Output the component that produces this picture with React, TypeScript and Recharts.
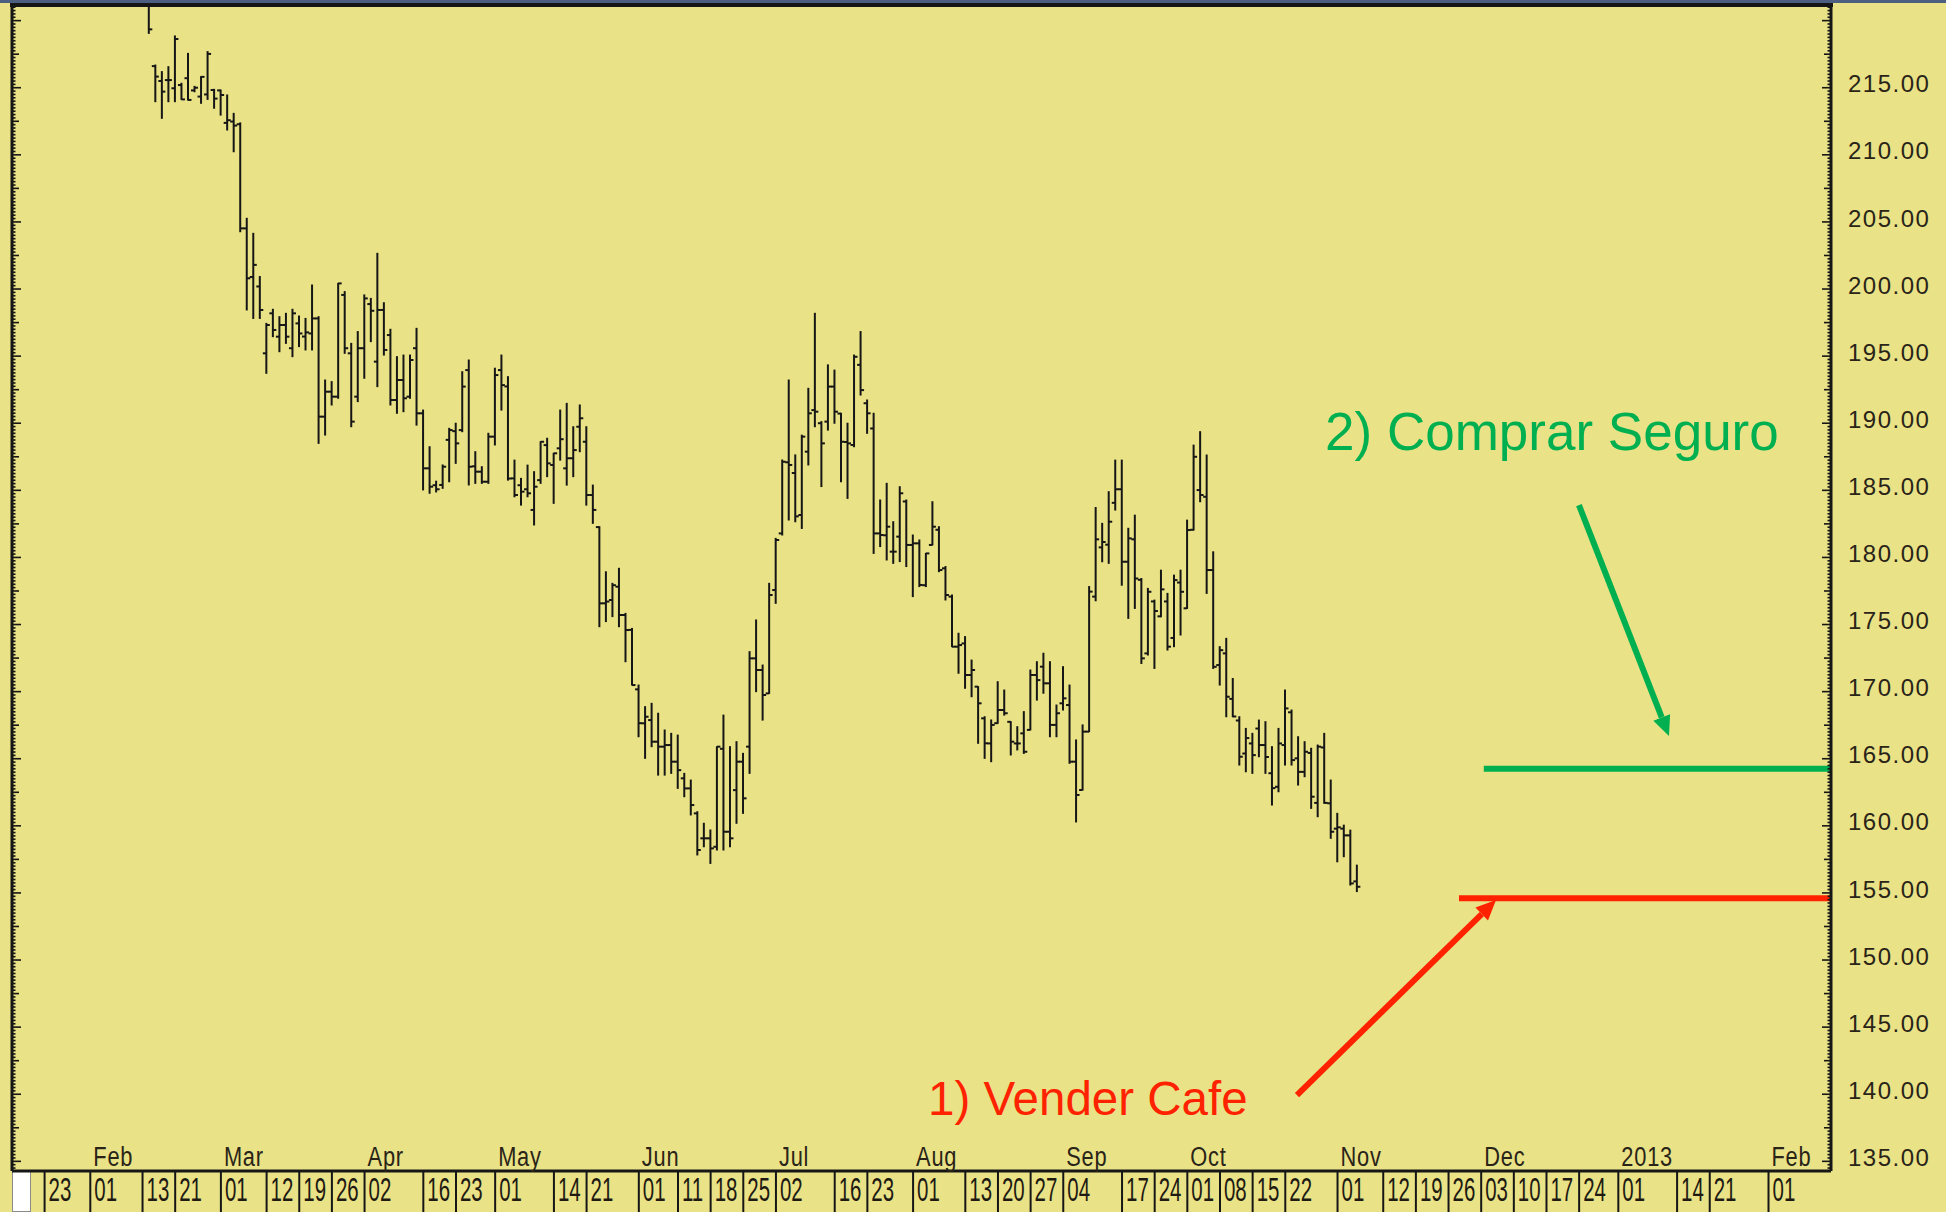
import React from 'react';
import { ComposedChart, Bar, XAxis, YAxis, ReferenceLine, ReferenceDot } from 'recharts';

// ---- data (trading-day index, first bar = Feb 14 2012, index 0 = Jan 23 2012) ----
const firstBarIndex = 16;
const opens = [221.34,216.61,215.5,215.57,214.96,215.2,215.71,214.8,214.34,214.5,214.83,214.8,212.38,212.48,212.28,204.52,200.9,200.19,195.21,198.19,196.45,197.32,195.59,197.44,196.46,196.69,197.81,190.49,192.35,191.98,199.56,195.21,191.98,195.59,198.88,194.59,198.44,196.57,191.73,193.22,191.98,195.59,190.74,186.64,185.38,185.4,188.76,189.41,189.49,193.96,186.79,186.39,185.64,189.0,193.96,192.74,185.89,185.38,185.08,183.54,185.76,188.37,186.89,188.13,186.64,187.39,189.74,188.62,184.65,182.26,176.58,176.83,177.82,175.71,174.6,170.17,167.64,167.88,166.27,165.9,166.02,164.78,163.54,162.79,160.93,159.07,159.07,158.44,165.74,159.56,162.66,164.78,165.9,172.48,171.61,169.87,177.57,181.79,187.09,186.29,183.16,187.88,190.98,190.0,190.12,192.73,190.72,188.6,188.38,194.35,191.49,189.61,181.79,181.65,180.43,181.55,184.17,180.93,181.05,177.93,180.93,182.06,179.19,177.08,173.35,173.59,171.24,170.37,168.01,166.14,167.65,168.63,167.75,166.14,166.89,167.15,171.24,171.86,170.62,167.52,169.13,169.0,164.78,162.67,167.02,177.08,180.75,180.95,184.07,185.08,179.68,181.35,178.33,172.85,176.72,175.61,176.72,174.0,178.13,176.21,182.06,185.02,184.52,179.06,171.98,172.85,169.46,167.85,165.39,166.14,167.25,166.02,163.92,162.91,166.02,168.46,165.03,164.02,165.43,161.71,165.84,161.68,159.79,159.79,159.29,155.86];
const highs = [221.85,216.69,216.2,216.57,218.86,215.33,217.56,215.1,215.83,217.69,214.88,214.83,214.46,213.09,212.38,205.27,204.15,200.93,197.44,198.49,197.94,198.19,198.49,197.99,197.81,200.3,197.94,193.22,193.1,200.42,199.81,195.95,196.83,199.56,199.3,202.66,198.98,197.0,194.96,195.08,195.08,197.07,190.98,188.25,185.68,186.89,189.62,190.0,193.84,194.71,187.88,186.76,189.25,194.1,195.08,193.47,187.25,185.89,186.88,186.39,188.62,188.88,187.76,190.98,191.48,189.74,191.36,189.74,185.39,182.29,178.93,178.07,179.19,175.83,174.71,170.49,168.88,169.13,168.39,167.14,166.89,166.76,163.91,163.41,161.05,160.19,159.69,165.9,168.25,165.9,166.27,165.4,172.98,175.34,171.98,178.07,181.42,187.26,193.22,187.64,189.11,192.6,198.19,190.12,194.35,193.96,190.74,190.0,195.08,196.83,191.73,190.74,184.28,185.52,182.66,185.27,184.28,181.67,181.3,180.3,184.15,182.29,179.32,177.2,174.35,174.1,172.35,170.37,168.13,167.89,170.74,170.12,167.76,167.39,168.51,171.61,172.23,172.86,172.23,169.0,171.86,170.49,166.4,167.52,177.83,183.72,182.54,184.9,187.25,187.25,182.17,183.15,178.43,177.69,176.82,179.05,177.32,178.68,179.05,182.78,188.37,189.37,187.63,180.42,173.35,173.97,170.98,168.13,167.26,166.89,167.88,167.76,165.9,167.26,170.12,168.63,166.64,166.27,165.78,166.02,166.89,163.41,160.93,160.05,159.68,157.07];
const lows = [219.05,213.96,212.72,213.96,213.96,214.13,214.08,214.7,213.84,214.13,213.47,212.96,211.85,210.23,204.27,198.44,197.81,197.81,193.72,196.45,195.33,195.95,194.96,195.71,195.46,195.46,188.5,189.12,191.36,191.86,195.21,189.74,191.61,193.35,196.08,192.73,195.08,191.36,190.74,190.86,191.86,189.86,185.03,184.78,184.88,185.15,185.64,187.01,189.37,185.4,185.52,185.52,185.52,188.38,190.98,185.76,184.52,183.9,184.52,182.42,185.52,186.02,184.03,187.25,185.39,186.02,187.88,183.9,182.54,174.84,175.22,175.59,174.84,172.23,170.49,166.64,165.03,165.9,163.78,163.78,163.91,162.79,162.17,160.81,157.83,158.44,157.2,158.2,158.2,158.44,160.19,160.93,163.91,170.0,167.88,169.87,176.58,181.67,182.79,182.66,182.16,186.89,189.74,185.28,189.49,190.0,185.64,184.4,188.25,192.1,189.25,180.3,180.81,179.81,179.56,179.69,179.32,177.08,177.83,177.83,180.93,178.94,176.83,173.35,171.37,170.25,169.62,166.15,165.03,164.78,167.64,168.25,165.28,165.66,165.4,167.15,169.37,169.88,166.64,166.64,168.63,164.66,160.29,162.67,167.02,176.77,179.68,179.56,183.53,177.93,175.46,176.2,172.1,172.73,171.73,175.58,173.1,173.35,174.22,176.2,182.04,184.15,177.32,171.73,170.49,168.13,168.13,164.53,164.03,163.91,165.15,163.91,161.55,162.54,164.53,164.53,163.04,163.66,161.3,160.68,161.68,159.07,157.32,157.7,155.59,155.1];
const closes = [219.35,215.83,214.71,215.57,218.63,214.13,214.09,215.0,215.81,217.52,214.19,214.46,212.58,212.18,204.52,200.8,201.8,198.44,197.32,196.95,197.32,196.45,198.19,196.69,196.77,197.81,190.49,192.35,191.98,200.42,195.59,190.12,195.59,199.3,198.38,198.44,195.46,191.73,193.22,191.86,194.71,190.74,186.64,185.27,185.08,186.76,189.49,188.5,192.73,186.76,186.39,185.64,189.0,193.59,192.84,185.88,184.65,184.9,184.78,185.27,188.62,187.01,187.76,188.81,187.39,188.0,190.37,184.65,183.54,176.58,176.71,177.93,175.71,174.59,170.49,167.65,168.13,166.27,165.9,166.02,164.78,164.15,162.79,161.55,158.2,159.07,158.32,165.9,159.56,159.07,164.78,162.05,172.48,171.61,169.75,177.2,181.3,187.13,186.89,183.06,189.0,190.74,190.86,188.5,192.73,190.86,188.62,188.5,194.95,192.47,190.74,181.79,181.67,182.29,180.43,184.78,180.93,181.05,177.95,180.3,182.29,179.06,177.2,173.35,173.47,171.24,171.61,169.13,166.15,167.52,168.63,168.39,166.27,166.14,165.52,171.24,170.86,170.62,167.52,168.39,169.5,164.78,162.3,167.02,177.45,181.35,181.15,182.66,185.08,179.68,181.42,178.43,172.48,177.44,176.01,177.62,173.35,178.31,177.44,182.04,187.5,184.65,179.06,171.85,173.09,169.62,168.15,165.15,166.54,165.27,166.02,165.13,162.81,166.14,168.75,164.9,164.02,165.52,162.17,165.9,161.71,159.56,159.89,159.29,155.71,155.46];

const dayTickIdx = [0,7,15,20,27,34,39,44,49,58,63,69,78,83,91,97,102,107,112,121,126,133,141,146,151,156,165,170,175,180,185,190,198,205,210,215,220,225,230,235,241,250,255,264];
const dayTickLabels = ['23','01','13','21','01','12','19','26','02','16','23','01','14','21','01','11','18','25','02','16','23','01','13','20','27','04','17','24','01','08','15','22','01','12','19','26','03','10','17','24','01','14','21','01'];
const monthTickIdx = [7,27,49,69,91,112,133,156,175,198,220,241,264];
const monthLabels = ['Feb','Mar','Apr','May','Jun','Jul','Aug','Sep','Oct','Nov','Dec','2013','Feb'];
const priceLabels = [135,140,145,150,155,160,165,170,175,180,185,190,195,200,205,210,215];

const sellLevel = 154.6;   // red line
const hedgeLevel = 164.25; // green line

const X_DOMAIN: [number, number] = [-4.99, 273.57];
const Y_DOMAIN: [number, number] = [134.28, 221.09];

const rulerTicks: number[] = [];
for (let k = 0; k <= (221 - 134.5) / 0.25; k++) rulerTicks.push(134.5 + k * 0.25);

const data = highs.map((h, k) => ({
  i: firstBarIndex + k,
  open: opens[k],
  high: h,
  low: lows[k],
  close: closes[k],
}));

const INK = '#161616';
const BG = '#E9E287';
const GREEN = '#00B050';
const RED = '#FF2200';

const OhlcShape = (props: any) => {
  const { x, y, width, height, payload } = props;
  if (!payload || x == null) return null;
  const cx = x + width / 2;
  const top = Math.min(y, y + height);
  const bot = Math.max(y, y + height);
  const span = payload.high - payload.low;
  const k = span > 0 ? (bot - top) / span : 0;
  const yo = top + (payload.high - payload.open) * k;
  const yc = top + (payload.high - payload.close) * k;
  return (
    <g stroke={INK} strokeWidth={2}>
      <line x1={cx} y1={top - 0.5} x2={cx} y2={bot + 0.5} />
      <line x1={cx - 3.5} y1={yo} x2={cx} y2={yo} />
      <line x1={cx} y1={yc} x2={cx + 3.5} y2={yc} />
    </g>
  );
};

const isMult = (v: number, m: number) => Math.abs(v / m - Math.round(v / m)) < 1e-6;

const RightTick = (props: any) => {
  const { x, y, payload } = props;
  const v = payload.value;
  const major = isMult(v, 5);
  const mid = !major && isMult(v, 2.5);
  const len = major ? 9 : mid ? 7 : 3.5;
  const showLabel = major && priceLabels.includes(Math.round(v));
  return (
    <g>
      <line x1={x} y1={y} x2={x - len} y2={y} stroke={INK} strokeWidth={1.6} />
      {showLabel && (
        <text x={x + 17} y={y - 4} dy="0.36em" fontSize={24} fontFamily="Liberation Sans, Arial, sans-serif" fill="#2a2418" letterSpacing={1.5}>
          {v.toFixed(2)}
        </text>
      )}
    </g>
  );
};

const LeftTick = (props: any) => {
  const { x, y, payload } = props;
  const v = payload.value;
  const major = isMult(v, 5);
  const mid = !major && isMult(v, 2.5);
  const len = major ? 9 : mid ? 7 : 3.5;
  return <line x1={x} y1={y} x2={x + len} y2={y} stroke={INK} strokeWidth={1.6} />;
};

const XTick = (props: any) => {
  const { x, y, payload } = props;
  const v = payload.value;
  const k = dayTickIdx.indexOf(v);
  const m = monthTickIdx.indexOf(v);
  return (
    <g>
      <line x1={x} y1={y} x2={x} y2={y + 42} stroke={INK} strokeWidth={2} />
      {k >= 0 && (
        <text transform={`translate(${x + 4},${y + 30}) scale(0.62,1)`} fontSize={33} fontFamily="Liberation Sans, Arial, sans-serif" fill="#1e1a12">
          {dayTickLabels[k]}
        </text>
      )}
      {m >= 0 && (
        <text transform={`translate(${x + 3},${y - 5}) scale(0.78,1)`} fontSize={28} fontFamily="Liberation Sans, Arial, sans-serif" fill="#2a2418" letterSpacing={1}>
          {monthLabels[m]}
        </text>
      )}
    </g>
  );
};

const arrowShape = (color: string) => (p: any) => {
  const { x1, y1, x2, y2 } = p;
  const ang = Math.atan2(y2 - y1, x2 - x1);
  const L = 20;
  const W = 9;
  const bx = x2 - L * Math.cos(ang);
  const by = y2 - L * Math.sin(ang);
  const px = -Math.sin(ang) * W;
  const py = Math.cos(ang) * W;
  return (
    <g>
      <line x1={x1} y1={y1} x2={bx} y2={by} stroke={color} strokeWidth={6} />
      <polygon points={`${x2},${y2} ${bx + px},${by + py} ${bx - px},${by - py}`} fill={color} />
    </g>
  );
};

const textShape = (txt: string, color: string, size: number) => (p: any) => (
  <text x={p.cx} y={p.cy} dy="0.35em" fontSize={size} fontFamily="Liberation Sans, Arial, sans-serif" fill={color}>
    {txt}
  </text>
);

export default function App() {
  return (
    <div style={{ position: 'absolute', left: 0, top: 0, width: 1946, height: 1212, background: BG, overflow: 'hidden' }}>
      <div style={{ position: 'absolute', left: 0, top: 0, width: 1946, height: 3, background: '#4d5f80' }} />
      <div style={{ position: 'absolute', left: 10, top: 3, width: 1823, height: 4, background: INK }} />
      <div style={{ position: 'absolute', left: 12, top: 1171, width: 19, height: 41, background: '#ffffff', border: '1px solid #8a8a8a', boxSizing: 'border-box' }} />
      <ComposedChart
        width={1946}
        height={1212}
        data={data}
        margin={{ top: 6, right: 0, bottom: 0, left: 11 }}
        style={{ position: 'absolute', left: 0, top: 0 }}
      >
        <XAxis
          dataKey="i"
          type="number"
          domain={X_DOMAIN}
          allowDataOverflow
          ticks={dayTickIdx}
          interval={0}
          tick={<XTick />}
          tickLine={false}
          tickSize={0}
          tickMargin={0}
          height={41}
          axisLine={{ stroke: INK, strokeWidth: 3 }}
        />
        <YAxis
          yAxisId="r"
          orientation="right"
          type="number"
          domain={Y_DOMAIN}
          allowDataOverflow
          ticks={rulerTicks}
          interval={0}
          tick={<RightTick />}
          tickLine={false}
          tickSize={0}
          tickMargin={0}
          width={115}
          axisLine={{ stroke: INK, strokeWidth: 3 }}
        />
        <YAxis
          yAxisId="l"
          orientation="left"
          type="number"
          domain={Y_DOMAIN}
          allowDataOverflow
          ticks={rulerTicks}
          interval={0}
          tick={<LeftTick />}
          tickLine={false}
          tickSize={0}
          tickMargin={0}
          width={1}
          axisLine={{ stroke: INK, strokeWidth: 3 }}
        />
        <Bar
          yAxisId="r"
          dataKey={(d: any) => [d.low, d.high]}
          barSize={6}
          shape={<OhlcShape />}
          isAnimationActive={false}
        />
        <ReferenceLine
          yAxisId="r"
          segment={[{ x: 220.4, y: hedgeLevel }, { x: X_DOMAIN[1], y: hedgeLevel }]}
          stroke={GREEN}
          strokeWidth={6}
        />
        <ReferenceLine
          yAxisId="r"
          segment={[{ x: 216.6, y: sellLevel }, { x: X_DOMAIN[1], y: sellLevel }]}
          stroke={RED}
          strokeWidth={6}
        />
        <ReferenceLine
          yAxisId="r"
          segment={[{ x: 234.97, y: 183.9 }, { x: 248.76, y: 166.69 }]}
          shape={arrowShape(GREEN)}
        />
        <ReferenceLine
          yAxisId="r"
          segment={[{ x: 191.79, y: 139.94 }, { x: 222.27, y: 154.47 }]}
          shape={arrowShape(RED)}
        />
        <ReferenceDot yAxisId="r" x={196.1} y={189.42} r={0} shape={textShape('2) Comprar Seguro', GREEN, 53)} />
        <ReferenceDot yAxisId="r" x={135.3} y={139.72} r={0} shape={textShape('1) Vender Cafe', RED, 47.5)} />
      </ComposedChart>
    </div>
  );
}
